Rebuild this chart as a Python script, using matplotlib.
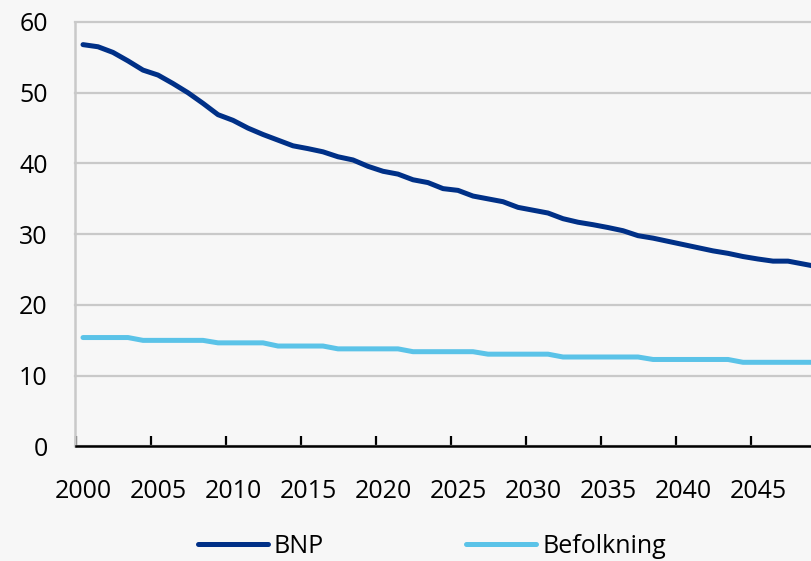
import matplotlib
matplotlib.use("Agg")
import matplotlib.pyplot as plt
import numpy as np

# yearly series, 2000-2049
years = np.arange(2000, 2050)
bnp = [56.8, 56.5, 55.7, 54.5, 53.2, 52.5, 51.3, 50.0, 48.5, 46.9,
       46.1, 45.0, 44.1, 43.3, 42.5, 42.1, 41.65, 40.95, 40.5, 39.6,
       38.9, 38.5, 37.7, 37.3, 36.45, 36.2, 35.4, 35.0, 34.6, 33.8,
       33.4, 33.0, 32.2, 31.7, 31.35, 30.95, 30.5, 29.8, 29.45, 29.0,
       28.55, 28.1, 27.65, 27.3, 26.85, 26.5, 26.2, 26.2, 25.8, 25.4]
befolkning = [15.4] * 4 + [15.0] * 5 + [14.65] * 4 + [14.2] * 4 + [13.8] * 5 \
    + [13.4] * 5 + [13.05] * 5 + [12.65] * 6 + [12.3] * 6 + [11.9] * 6
label_years = [2000, 2005, 2010, 2015, 2020, 2025, 2030, 2035, 2040, 2045]
yticks = [0, 10, 20, 30, 40, 50, 60]

navy = "#003087"
light_blue = "#5bc3e8"
bg = "#f7f7f7"
grid_col = "#c9c9c9"

plt.rcParams["font.family"] = ["Open Sans", "DejaVu Sans"]

fig = plt.figure(figsize=(8.12, 5.61), dpi=100, facecolor=bg)
ax = fig.add_axes([75.5 / 812, 0.2041, 1 - 75.5 / 812, 0.7567])
ax.set_facecolor(bg)

ax.plot(years, bnp, color=navy, lw=3.6, solid_capstyle="round", label="BNP", zorder=3)
ax.plot(years, befolkning, color=light_blue, lw=3.6, solid_capstyle="round",
        label="Befolkning", zorder=3)

ax.set_xlim(1999.5, 2048.6)
ax.set_ylim(0, 60)

# category-style axis: ticks between years, labels on the year itself
ax.set_xticks([y - 0.5 for y in label_years])
ax.set_xticklabels([])
ax.set_xticks(label_years, minor=True)
ax.set_xticklabels([str(y) for y in label_years], minor=True)
ax.tick_params(axis="x", which="major", direction="in", length=7, width=1.6, color="black")
ax.tick_params(axis="x", which="minor", length=0, pad=23.5, labelsize=18)

ax.set_yticks(yticks)
ax.tick_params(axis="y", length=0, pad=20, labelsize=18)

ax.grid(axis="y", color=grid_col, lw=1.6, zorder=0)
for gl in ax.get_ygridlines():
    gl.set_clip_on(False)

for side in ["top", "right"]:
    ax.spines[side].set_visible(False)
ax.spines["left"].set_color(grid_col)
ax.spines["left"].set_linewidth(1.8)
ax.spines["bottom"].set_color("black")
ax.spines["bottom"].set_linewidth(1.8)
ax.spines["bottom"].set_zorder(4)

fig.legend(loc="center", bbox_to_anchor=(0.532, 0.026), ncol=2, frameon=False,
           fontsize=18, handlelength=2.8, handletextpad=0.25, columnspacing=5.7)

fig.savefig("out.png", dpi=100, facecolor=bg)
